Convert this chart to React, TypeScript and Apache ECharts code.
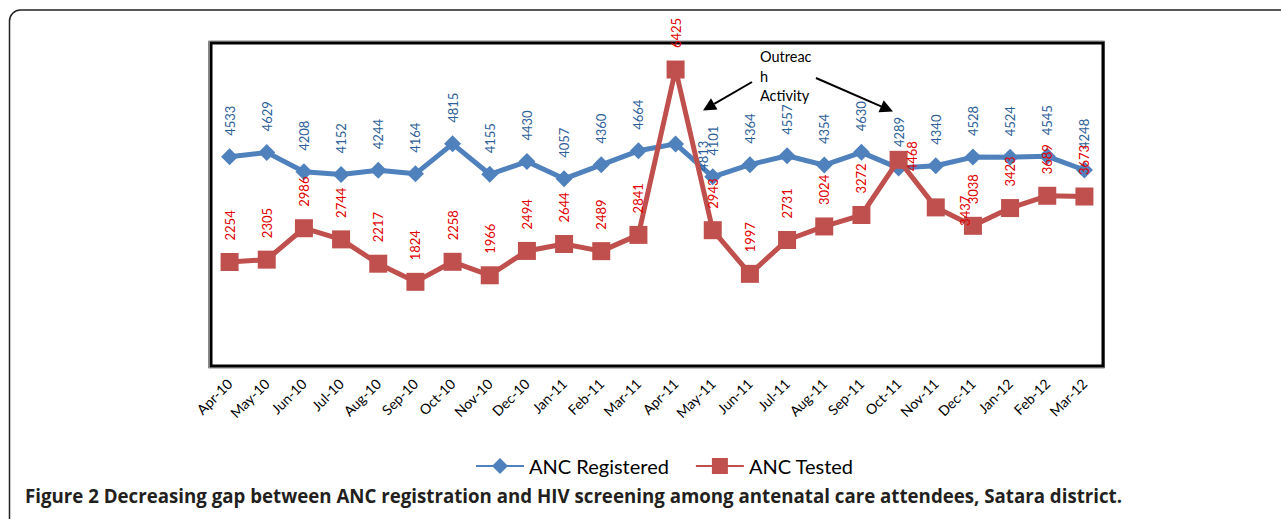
import React, { useEffect, useRef } from "react";
import * as echarts from "echarts";

const categories = [
  "Apr-10", "May-10", "Jun-10", "Jul-10", "Aug-10", "Sep-10", "Oct-10", "Nov-10",
  "Dec-10", "Jan-11", "Feb-11", "Mar-11", "Apr-11", "May-11", "Jun-11", "Jul-11",
  "Aug-11", "Sep-11", "Oct-11", "Nov-11", "Dec-11", "Jan-12", "Feb-12", "Mar-12",
];
const ancRegistered = [
  4533, 4629, 4208, 4152, 4244, 4164, 4815, 4155, 4430, 4057, 4360, 4664,
  4813, 4101, 4364, 4557, 4354, 4630, 4289, 4340, 4528, 4524, 4545, 4248,
];
const ancTested = [
  2254, 2305, 2986, 2744, 2217, 1824, 2258, 1966, 2494, 2644, 2489, 2841,
  6425, 2943, 1997, 2731, 3024, 3272, 4468, 3437, 3038, 3423, 3689, 3673,
];
const seriesNames = ["ANC Registered", "ANC Tested"];
const annotationText = "Outreac\nh\nActivity";
const caption =
  "Figure 2 Decreasing gap between ANC registration and HIV screening among antenatal care attendees, Satara district.";

// manually moved data labels (as in the original spreadsheet chart)
const registeredLabelOffsets: Record<number, number[]> = { 12: [-48, 27] };
const testedLabelOffsets: Record<number, number[]> = { 18: [-33, 13], 19: [-40, 29] };

const FONT = "Lato";

function arrow(x1: number, y1: number, x2: number, y2: number) {
  const dx = x2 - x1;
  const dy = y2 - y1;
  const len = Math.sqrt(dx * dx + dy * dy);
  const ux = dx / len;
  const uy = dy / len;
  const hl = 13;
  const hw = 6.5;
  const bx = x2 - ux * hl;
  const by = y2 - uy * hl;
  return [
    {
      type: "line",
      shape: { x1, y1, x2: bx, y2: by },
      style: { stroke: "#000", lineWidth: 2 },
      silent: true,
    },
    {
      type: "polygon",
      shape: {
        points: [
          [x2, y2],
          [bx - uy * hw, by + ux * hw],
          [bx + uy * hw, by - ux * hw],
        ],
      },
      style: { fill: "#000" },
      silent: true,
    },
  ];
}

function buildData(values: number[], offsets: Record<number, number[]>) {
  return values.map((v, i) =>
    offsets[i] ? { value: v, label: { offset: offsets[i] } } : v
  );
}

export default function App() {
  const ref = useRef<HTMLDivElement>(null);

  useEffect(() => {
    if (!ref.current) return;
    const chart = echarts.init(ref.current, null, { renderer: "svg" });

    const labelBase = {
      show: true,
      position: "top",
      distance: 12.5,
      rotate: 90,
      align: "left",
      verticalAlign: "middle",
      fontFamily: FONT,
      fontSize: 13,
    };

    chart.setOption({
      animation: false,
      backgroundColor: "#fff",
      textStyle: { fontFamily: FONT },
      grid: {
        left: 211,
        top: 43,
        right: 178,
        bottom: 153,
        show: true,
        borderColor: "#000",
        borderWidth: 3,
        backgroundColor: "#fff",
      },
      legend: {
        left: 470,
        top: 451,
        itemWidth: 48,
        itemHeight: 20,
        itemGap: 26,
        textStyle: { fontFamily: FONT, fontSize: 20, color: "#000" },
        data: seriesNames,
      },
      xAxis: {
        type: "category",
        data: categories,
        boundaryGap: true,
        axisLine: { show: false },
        axisTick: { show: false },
        axisLabel: {
          interval: 0,
          rotate: 45,
          margin: 15,
          fontFamily: FONT,
          fontSize: 14,
          color: "#000",
        },
      },
      yAxis: {
        type: "value",
        min: 0,
        max: 7000,
        interval: 1000,
        show: false,
        splitLine: { show: false },
      },
      series: [
        {
          name: seriesNames[0],
          type: "line",
          data: buildData(ancRegistered, registeredLabelOffsets),
          symbol: "diamond",
          symbolSize: 17,
          lineStyle: { color: "#4F81BD", width: 5 },
          itemStyle: { color: "#4F81BD" },
          label: { ...labelBase, color: "#2F5F98" },
          z: 2,
        },
        {
          name: seriesNames[1],
          type: "line",
          data: buildData(ancTested, testedLabelOffsets),
          symbol: "rect",
          symbolSize: 18,
          lineStyle: { color: "#C0504D", width: 5 },
          itemStyle: { color: "#C0504D" },
          label: { ...labelBase, color: "#E00000" },
          z: 3,
        },
      ],
      graphic: [
        {
          type: "rect",
          shape: { x: 9.5, y: 10, width: 1300, height: 540, r: 11 },
          style: { fill: "none", stroke: "#222", lineWidth: 1.5 },
          silent: true,
          z: -1,
        },
        {
          type: "rect",
          shape: { x: 208.5, y: 41, width: 896, height: 327 },
          style: { fill: "none", stroke: "#888", lineWidth: 1 },
          silent: true,
          z: -1,
        },
        {
          type: "text",
          left: 760,
          top: 47,
          style: {
            text: annotationText,
            fontFamily: FONT,
            fontSize: 14.5,
            lineHeight: 19.5,
            fill: "#000",
          },
          silent: true,
        },
        ...arrow(752, 82, 703, 110.5),
        ...arrow(816, 78, 893, 111.5),
        {
          type: "text",
          x: 25,
          y: 495.5,
          style: {
            text: caption,
            fontFamily: "Open Sans",
            fontWeight: "bold",
            fontSize: 18.7,
            verticalAlign: "middle",
            fill: "#231F20",
          },
          silent: true,
        },
      ],
    });

    return () => chart.dispose();
  }, []);

  return (
    <div
      ref={ref}
      style={{ position: "fixed", left: 0, top: 0, width: 1281, height: 519 }}
    />
  );
}
